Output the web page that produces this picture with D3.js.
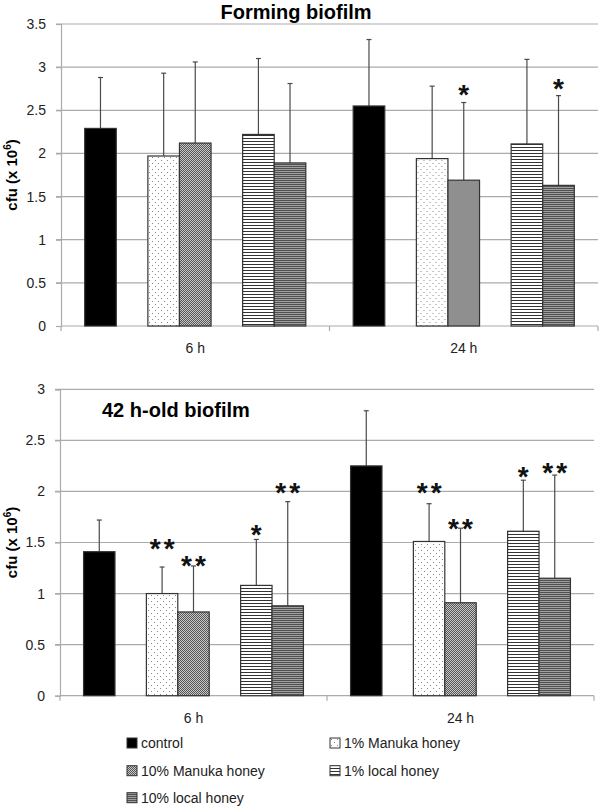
<!DOCTYPE html>
<html>
<head>
<meta charset="utf-8">
<script src="https://cdn.jsdelivr.net/npm/d3@7/dist/d3.min.js"></script>
<style>
  html, body { margin: 0; padding: 0; background: #fff; }
  svg { display: block; font-family: "Liberation Sans", Arial, sans-serif; }
</style>
</head>
<body>
<svg id="chart" width="600" height="806"></svg>
<script>
// ---------------- DATA ----------------
const groups = ["6 h", "24 h"];
const series = ["control", "1% Manuka honey", "10% Manuka honey", "1% local honey", "10% local honey"];
// slot order inside each group (gaps are empty slots)
const slots = ["control", "gapA", "1% Manuka honey", "10% Manuka honey", "gapB", "1% local honey", "10% local honey"];

// Forming biofilm (cfu x 10^6)
const formingMean6  = [2.29, 1.97, 2.12, 2.22, 1.89];
const formingSD6    = [0.59, 0.96, 0.94, 0.88, 0.92];
const formingMean24 = [2.55, 1.94, 1.69, 2.11, 1.63];
const formingSD24   = [0.77, 0.84, 0.90, 0.98, 1.04];
const formingSig6   = ["", "", "", "", ""];
const formingSigY6  = [null, null, null, null, null];
const formingSig24  = ["", "", "*", "", "*"];
const formingSigY24 = [null, null, 2.75, null, 2.82];

// 42 h-old biofilm
const oldMean6  = [1.41, 1.00, 0.82, 1.08, 0.88];
const oldSD6    = [0.31, 0.26, 0.45, 0.45, 1.02];
const oldMean24 = [2.25, 1.51, 0.91, 1.61, 1.15];
const oldSD24   = [0.54, 0.37, 0.73, 0.50, 1.01];
const oldSig6   = ["", "**", "**", "*", "**"];
const oldSigY6  = [null, 1.50, 1.33, 1.63, 2.04];
const oldSig24  = ["", "**", "**", "*", "**"];
const oldSigY24 = [null, 2.04, 1.69, 2.20, 2.24];

const formingTicks = [0, 0.5, 1, 1.5, 2, 2.5, 3, 3.5];
const oldTicks = [0, 0.5, 1, 1.5, 2, 2.5, 3];

// ---------------- DRAW ----------------
const svg = d3.select("#chart");
const defs = svg.append("defs");

// patterns
const pDots = defs.append("pattern").attr("id", "pDots").attr("patternUnits", "userSpaceOnUse")
  .attr("width", 6).attr("height", 6);
pDots.append("rect").attr("width", 6).attr("height", 6).attr("fill", "#fff");
pDots.append("rect").attr("x", 1).attr("y", 1).attr("width", 1).attr("height", 1).attr("fill", "#888");
pDots.append("rect").attr("x", 4).attr("y", 4).attr("width", 1).attr("height", 1).attr("fill", "#888");

const pCheck = defs.append("pattern").attr("id", "pCheck").attr("patternUnits", "userSpaceOnUse")
  .attr("width", 2).attr("height", 2);
pCheck.append("rect").attr("width", 2).attr("height", 2).attr("fill", "#c8c8c8");
pCheck.append("rect").attr("x", 0).attr("y", 0).attr("width", 1).attr("height", 1).attr("fill", "#555");
pCheck.append("rect").attr("x", 1).attr("y", 1).attr("width", 1).attr("height", 1).attr("fill", "#555");

const pLines = defs.append("pattern").attr("id", "pLines").attr("patternUnits", "userSpaceOnUse")
  .attr("width", 4).attr("height", 3);
pLines.append("rect").attr("width", 4).attr("height", 3).attr("fill", "#fff");
pLines.append("rect").attr("y", 0).attr("width", 4).attr("height", 1).attr("fill", "#333");

const pDark = defs.append("pattern").attr("id", "pDark").attr("patternUnits", "userSpaceOnUse")
  .attr("width", 4).attr("height", 2);
pDark.append("rect").attr("width", 4).attr("height", 2).attr("fill", "#a0a0a0");
pDark.append("rect").attr("y", 0).attr("width", 4).attr("height", 1).attr("fill", "#505050");

const fills = {
  "control": "#000",
  "1% Manuka honey": "url(#pDots)",
  "10% Manuka honey": "url(#pCheck)",
  "1% local honey": "url(#pLines)",
  "10% local honey": "url(#pDark)"
};

const gridColor = "#ababab";
const FONT = "'Liberation Sans', Arial, sans-serif";

function panel(cfg) {
  const g = svg.append("g");
  const y = d3.scaleLinear().domain([0, cfg.max]).range([cfg.bottom, cfg.top]);
  const x0 = d3.scaleBand().domain(groups).range([cfg.left, cfg.right]).padding(0);
  const x1 = d3.scaleBand().domain(slots).range([0, x0.bandwidth()]).paddingInner(0).paddingOuter(0.75);

  // gridlines
  g.append("g").selectAll("line").data(cfg.ticks.filter(t => t > 0)).join("line")
    .attr("x1", cfg.left - 5).attr("x2", cfg.right)
    .attr("y1", d => y(d)).attr("y2", d => y(d))
    .attr("stroke", gridColor).attr("stroke-width", 1.2);

  // title (centered one sits on a white box that interrupts the top gridline)
  if (cfg.titleCentered) {
    const tg = g.append("g");
    const bgRect = tg.append("rect").attr("fill", "#fff");
    const t = tg.append("text").attr("x", cfg.titleX).attr("y", cfg.titleY)
      .attr("text-anchor", "middle").attr("font-size", 20).attr("font-weight", "bold")
      .attr("font-family", FONT).attr("fill", "#000").text(cfg.title);
    const bb = t.node().getBBox();
    bgRect.attr("x", bb.x - 4).attr("y", bb.y).attr("width", bb.width + 8).attr("height", bb.height);
  } else {
    g.append("text").attr("x", cfg.titleX).attr("y", cfg.titleY)
      .attr("font-size", 20).attr("font-weight", "bold").attr("font-family", FONT)
      .attr("fill", "#000").text(cfg.title);
  }

  // y axis
  const yAxis = d3.axisLeft(y).tickValues(cfg.ticks).tickSize(5).tickPadding(10)
    .tickFormat(d3.format("~g"));
  const ya = g.append("g").attr("transform", `translate(${cfg.left},0)`).call(yAxis);
  ya.attr("font-size", 14).attr("font-family", FONT);
  ya.select(".domain").attr("stroke", gridColor).attr("stroke-width", 1.2);
  ya.selectAll(".tick line").attr("stroke", gridColor).attr("stroke-width", 1.2);
  ya.selectAll(".tick text").attr("fill", "#222");

  // x axis
  const xa = g.append("g").attr("transform", `translate(0,${cfg.bottom})`);
  xa.append("line").attr("x1", cfg.left).attr("x2", cfg.right).attr("y1", 0).attr("y2", 0)
    .attr("stroke", gridColor).attr("stroke-width", 1.2);
  const bounds = [cfg.left, ...groups.map(gr => x0(gr) + x0.bandwidth())];
  xa.selectAll("line.tk").data(bounds).join("line").attr("class", "tk")
    .attr("x1", d => d).attr("x2", d => d).attr("y1", 0).attr("y2", 5)
    .attr("stroke", gridColor).attr("stroke-width", 1.2);
  xa.selectAll("text").data(groups).join("text")
    .attr("x", d => x0(d) + x0.bandwidth() / 2).attr("y", cfg.xLabelDy)
    .attr("text-anchor", "middle").attr("font-size", 14).attr("fill", "#222").text(d => d);

  // y title
  const yt = g.append("text")
    .attr("transform", `translate(17,${(cfg.top + cfg.bottom) / 2}) rotate(-90)`)
    .attr("text-anchor", "middle").attr("font-size", 15).attr("font-weight", "bold").attr("fill", "#000");
  yt.append("tspan").text("cfu (x 10");
  yt.append("tspan").attr("font-size", 10).attr("dy", -6).text("6");
  yt.append("tspan").attr("dy", 6).text(")");

  // bars
  groups.forEach((gr, gi) => {
    const means = cfg.means[gi], sds = cfg.sds[gi], sig = cfg.sig[gi], sigY = cfg.sigY[gi];
    const data = series.map((s, i) => ({ s, m: means[i], sd: sds[i], sig: sig[i], sy: sigY[i] }));
    const gg = g.append("g").attr("transform", `translate(${x0(gr)},0)`);

    // error bars
    const eb = gg.selectAll("g.eb").data(data).join("g").attr("class", "eb");
    eb.append("line")
      .attr("x1", d => x1(d.s) + x1.bandwidth() / 2).attr("x2", d => x1(d.s) + x1.bandwidth() / 2)
      .attr("y1", d => y(d.m)).attr("y2", d => y(d.m + d.sd))
      .attr("stroke", "#4a4a4a").attr("stroke-width", 1.2);
    eb.append("line")
      .attr("x1", d => x1(d.s) + x1.bandwidth() / 2 - 2.5).attr("x2", d => x1(d.s) + x1.bandwidth() / 2 + 2.5)
      .attr("y1", d => y(d.m + d.sd)).attr("y2", d => y(d.m + d.sd))
      .attr("stroke", "#4a4a4a").attr("stroke-width", 1.2);

    gg.selectAll("rect.bar").data(data).join("rect").attr("class", "bar")
      .attr("x", d => x1(d.s)).attr("width", x1.bandwidth())
      .attr("y", d => y(d.m)).attr("height", d => y(0) - y(d.m))
      .attr("fill", d => fills[d.s]).attr("stroke", "#333").attr("stroke-width", 1.2);

    // significance
    data.filter(d => d.sig).forEach(d => {
      const chars = d.sig.split("");
      const cx = x1(d.s) + x1.bandwidth() / 2;
      chars.forEach((c, k) => {
        gg.append("text")
          .attr("x", cx + (k - (chars.length - 1) / 2) * 14)
          .attr("y", y(d.sy) + 15)
          .attr("text-anchor", "middle").attr("font-size", 28).attr("font-weight", "bold")
          .attr("fill", "#111").text(c);
      });
    });
  });
}

panel({
  left: 61, right: 598, top: 24, bottom: 326, max: 3.5, ticks: formingTicks,
  means: [formingMean6, formingMean24], sds: [formingSD6, formingSD24],
  sig: [formingSig6, formingSig24], sigY: [formingSigY6, formingSigY24],
  title: "Forming biofilm", titleCentered: true, titleX: 296, titleY: 19, xLabelDy: 27
});

panel({
  left: 60, right: 594, top: 389.3, bottom: 695.7, max: 3, ticks: oldTicks,
  means: [oldMean6, oldMean24], sds: [oldSD6, oldSD24],
  sig: [oldSig6, oldSig24], sigY: [oldSigY6, oldSigY24],
  title: "42 h-old biofilm", titleCentered: false, titleX: 102, titleY: 417, xLabelDy: 27
});

// legend
const legendPos = [[127, 743], [330, 743], [127, 770.7], [330, 770.7], [127, 797.7]];
const lg = svg.append("g");
series.forEach((s, i) => {
  const [lx, ly] = legendPos[i];
  lg.append("rect").attr("x", lx).attr("y", ly - 5).attr("width", 10).attr("height", 10)
    .attr("fill", fills[s]).attr("stroke", "#333").attr("stroke-width", 1);
  lg.append("text").attr("x", lx + 14).attr("y", ly + 5).attr("font-size", 14).attr("fill", "#222").text(s);
});
</script>
</body>
</html>
